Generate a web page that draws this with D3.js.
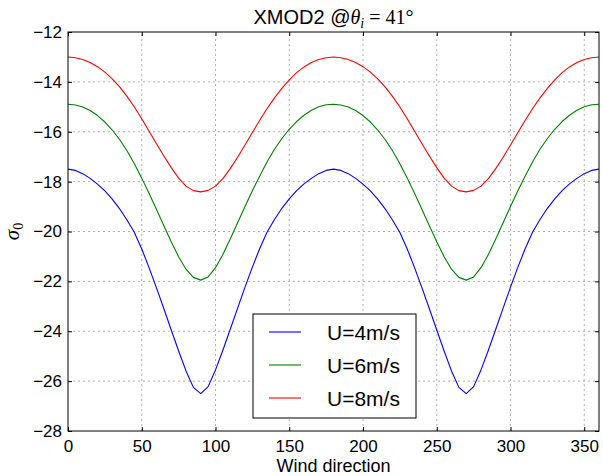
<!DOCTYPE html>
<html>
<head>
<meta charset="utf-8">
<script src="https://cdn.jsdelivr.net/npm/d3@7"></script>
<style>
  body { margin: 0; background: #fff; }
  svg { display: block; font-family: "Liberation Sans", Arial, sans-serif; }
</style>
</head>
<body>
<div id="chart"></div>
<script>
// wind direction (deg)
const angles = [0, 5, 10, 15, 20, 25, 30, 35, 40, 45, 50, 55, 60, 65, 70, 75, 80, 85, 90,
  95, 100, 105, 110, 115, 120, 125, 130, 135, 140, 145, 150, 155, 160, 165, 170, 175, 180,
  185, 190, 195, 200, 205, 210, 215, 220, 225, 230, 235, 240, 245, 250, 255, 260, 265, 270,
  275, 280, 285, 290, 295, 300, 305, 310, 315, 320, 325, 330, 335, 340, 345, 350, 355, 360];

const sigmaU4 = [-17.5, -17.55, -17.68, -17.87, -18.1, -18.37, -18.7, -19.09, -19.54, -20.04,
  -20.7, -21.46, -22.26, -23.1, -23.95, -24.79, -25.59, -26.25, -26.5,
  -26.22, -25.55, -24.76, -23.92, -23.07, -22.23, -21.43, -20.68, -20.02,
  -19.52, -19.07, -18.69, -18.36, -18.09, -17.87, -17.68, -17.55, -17.5,
  -17.55, -17.68, -17.87, -18.1, -18.37, -18.7, -19.09, -19.54, -20.04,
  -20.7, -21.46, -22.26, -23.1, -23.95, -24.79, -25.59, -26.25, -26.5,
  -26.22, -25.55, -24.76, -23.92, -23.07, -22.23, -21.43, -20.68, -20.02,
  -19.52, -19.07, -18.69, -18.36, -18.09, -17.87, -17.68, -17.55, -17.5];

const sigmaU6 = [-14.9, -14.93, -15.01, -15.15, -15.35, -15.61, -15.93, -16.31, -16.76, -17.28,
  -17.86, -18.48, -19.12, -19.77, -20.41, -21.01, -21.51, -21.84, -21.95,
  -21.82, -21.45, -20.92, -20.3, -19.65, -19.0, -18.37, -17.77, -17.2,
  -16.7, -16.27, -15.9, -15.59, -15.34, -15.14, -15.0, -14.92, -14.9,
  -14.93, -15.01, -15.15, -15.35, -15.61, -15.93, -16.31, -16.76, -17.28,
  -17.86, -18.48, -19.12, -19.77, -20.41, -21.01, -21.51, -21.84, -21.95,
  -21.82, -21.45, -20.92, -20.3, -19.65, -19.0, -18.37, -17.77, -17.2,
  -16.7, -16.27, -15.9, -15.59, -15.34, -15.14, -15.0, -14.92, -14.9];

const sigmaU8 = [-13, -13.03, -13.1, -13.22, -13.39, -13.61, -13.88, -14.2, -14.58, -15.01,
  -15.48, -15.98, -16.48, -16.97, -17.44, -17.86, -18.18, -18.36, -18.41,
  -18.35, -18.18, -17.88, -17.48, -17.02, -16.53, -16.03, -15.54, -15.07,
  -14.64, -14.26, -13.92, -13.63, -13.4, -13.22, -13.1, -13.03, -13,
  -13.03, -13.1, -13.22, -13.39, -13.61, -13.88, -14.2, -14.58, -15.01,
  -15.48, -15.98, -16.48, -16.97, -17.44, -17.86, -18.18, -18.36, -18.41,
  -18.35, -18.18, -17.88, -17.48, -17.02, -16.53, -16.03, -15.54, -15.07,
  -14.64, -14.26, -13.92, -13.63, -13.4, -13.22, -13.1, -13.03, -13];

const seriesNames = ['U=4m/s', 'U=6m/s', 'U=8m/s'];
const seriesColors = ['#0000ff', '#008000', '#ff0000'];
const xTicks = [0, 50, 100, 150, 200, 250, 300, 350];
const yTicks = [-28, -26, -24, -22, -20, -18, -16, -14, -12];

const width = 603, height = 476;
const margin = {top: 32, right: 4, bottom: 45, left: 68};

const svg = d3.select('#chart').append('svg')
    .attr('width', width)
    .attr('height', height);

const xScale = d3.scaleLinear().domain([0, 360]).range([margin.left, width - margin.right]);
const yScale = d3.scaleLinear().domain([-28, -12]).range([height - margin.bottom, margin.top]);

const x0 = xScale.range()[0], x1 = xScale.range()[1];
const y0 = yScale.range()[0], y1 = yScale.range()[1];

// grid
svg.append('g')
  .selectAll('line')
  .data(xTicks.filter(d => d > 0))
  .enter().append('line')
    .attr('x1', d => xScale(d)).attr('x2', d => xScale(d))
    .attr('y1', y0).attr('y2', y1)
    .attr('stroke', '#b0b0b0').attr('stroke-width', 1)
    .attr('stroke-dasharray', '2,3');

svg.append('g')
  .selectAll('line')
  .data(yTicks.filter(d => d > -28 && d < -12))
  .enter().append('line')
    .attr('x1', x0).attr('x2', x1)
    .attr('y1', d => yScale(d)).attr('y2', d => yScale(d))
    .attr('stroke', '#b0b0b0').attr('stroke-width', 1)
    .attr('stroke-dasharray', '2,3');

// curves
const allSeries = [sigmaU4, sigmaU6, sigmaU8];
const line = d3.line()
    .x((d, i) => xScale(angles[i]))
    .y(d => yScale(d));

allSeries.forEach((vals, k) => {
  svg.append('path')
    .datum(vals)
    .attr('fill', 'none')
    .attr('stroke', seriesColors[k])
    .attr('stroke-width', 1.1)
    .attr('stroke-linejoin', 'round')
    .attr('d', line);
});

// axes (inward ticks like matplotlib classic)
const xAxis = svg.append('g')
    .attr('transform', 'translate(0,' + y0 + ')')
    .call(d3.axisBottom(xScale).tickValues(xTicks).tickSizeInner(-4).tickSizeOuter(0).tickPadding(6));
const yAxis = svg.append('g')
    .attr('transform', 'translate(' + x0 + ',0)')
    .call(d3.axisLeft(yScale).tickValues(yTicks).tickSizeInner(-4).tickSizeOuter(0).tickPadding(6));
svg.append('g')
    .attr('transform', 'translate(0,' + y1 + ')')
    .call(d3.axisTop(xScale).tickValues(xTicks).tickSizeInner(-4).tickSizeOuter(0).tickFormat(''));
svg.append('g')
    .attr('transform', 'translate(' + x1 + ',0)')
    .call(d3.axisRight(yScale).tickValues(yTicks).tickSizeInner(-4).tickSizeOuter(0).tickFormat(''));

svg.selectAll('.domain').remove();
svg.selectAll('.tick text')
    .attr('font-size', 17)
    .attr('font-family', '"Liberation Sans", Arial, sans-serif')
    .attr('fill', '#000');
xAxis.selectAll('.tick text').attr('dy', '0.9em');

// frame
svg.append('rect')
    .attr('x', x0).attr('y', y1)
    .attr('width', x1 - x0).attr('height', y0 - y1)
    .attr('fill', 'none').attr('stroke', '#000').attr('stroke-width', 1);

// title
const title = svg.append('text')
    .attr('x', (x0 + x1) / 2).attr('y', 24)
    .attr('text-anchor', 'middle')
    .attr('font-size', 20);
title.append('tspan').text('XMOD2 @');
title.append('tspan').attr('font-family', '"Liberation Serif", serif').attr('font-style', 'italic').text('θ');
title.append('tspan').attr('font-family', '"Liberation Serif", serif').attr('font-style', 'italic')
    .attr('font-size', 14).attr('dy', 4).text('i');
title.append('tspan').attr('font-family', '"Liberation Serif", serif').attr('dy', -4).text(' = 41°');

// x label
svg.append('text')
    .attr('x', (x0 + x1) / 2).attr('y', 472)
    .attr('text-anchor', 'middle')
    .attr('font-size', 18)
    .text('Wind direction');

// y label
const ylab = svg.append('text')
    .attr('transform', 'translate(19,' + ((y0 + y1) / 2) + ') rotate(-90)')
    .attr('text-anchor', 'middle')
    .attr('font-family', '"Liberation Serif", serif')
    .attr('font-style', 'italic')
    .attr('font-size', 21);
ylab.append('tspan').text('σ');
ylab.append('tspan').attr('font-style', 'normal').attr('font-size', 14).attr('dy', 4).text('0');

// legend
const legend = svg.append('g').attr('transform', 'translate(253,314)');
legend.append('rect')
    .attr('width', 163).attr('height', 104)
    .attr('fill', '#fff').attr('stroke', '#000').attr('stroke-width', 1);
seriesNames.forEach((name, k) => {
  const ry = 18 + k * 33;
  legend.append('line')
    .attr('x1', 16).attr('x2', 48)
    .attr('y1', ry).attr('y2', ry)
    .attr('stroke', seriesColors[k]).attr('stroke-width', 1.1);
  legend.append('text')
    .attr('x', 74).attr('y', ry + 7.5)
    .attr('font-size', 21)
    .text(name);
});
</script>
</body>
</html>
